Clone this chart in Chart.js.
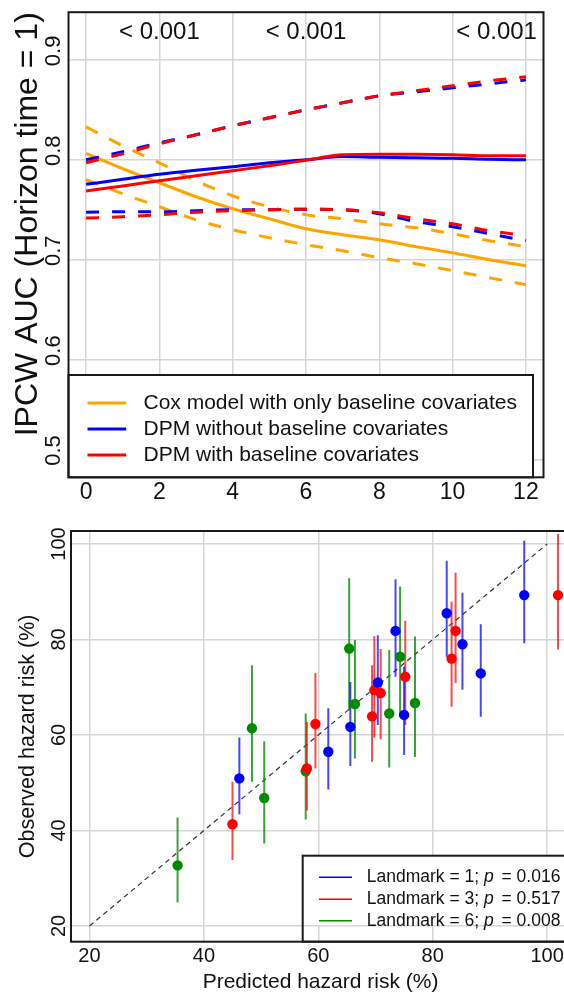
<!DOCTYPE html>
<html><head><meta charset="utf-8">
<script src="https://cdn.jsdelivr.net/npm/chart.js@4.4.1/dist/chart.umd.min.js"></script>
<style>
html,body{margin:0;padding:0;background:#fff;overflow:hidden;width:564px;height:995px;}
#c1{position:absolute;left:0;top:0;}
#c2{position:absolute;left:0;top:510px;}
</style></head><body>
<canvas id="c1" width="564" height="510" style="width:564px;height:510px"></canvas>
<canvas id="c2" width="580" height="485" style="width:580px;height:485px"></canvas>
<script>
// ---------- Top chart data ----------
const timeGrid = [0,1,2,3,4,5,6,7,8,9,10,11,12];
const coxAUC   = [0.8065,0.791,0.777,0.763,0.751,0.741,0.731,0.725,0.720,0.713,0.707,0.700,0.694];
const coxUpper = [0.833,0.814,0.797,0.779,0.764,0.753,0.745,0.741,0.736,0.732,0.726,0.719,0.713];
const coxLower = [0.780,0.766,0.753,0.740,0.730,0.722,0.715,0.709,0.702,0.696,0.689,0.682,0.675];
const dpmNoBaseAUC   = [0.7754,0.7805,0.7855,0.7895,0.793,0.797,0.800,0.8033,0.8025,0.802,0.8016,0.8005,0.800];
const dpmNoBaseUpper = [0.800,0.808,0.817,0.825,0.834,0.842,0.850,0.857,0.864,0.868,0.872,0.876,0.880];
const dpmNoBaseLower = [0.7475,0.748,0.748,0.749,0.750,0.750,0.7505,0.750,0.746,0.738,0.733,0.726,0.719];
const dpmBaseAUC   = [0.7688,0.7738,0.779,0.784,0.789,0.794,0.7995,0.805,0.8055,0.8055,0.805,0.804,0.804];
const dpmBaseUpper = [0.797,0.806,0.816,0.825,0.834,0.842,0.850,0.857,0.864,0.869,0.874,0.879,0.883];
const dpmBaseLower = [0.7416,0.743,0.745,0.7475,0.749,0.750,0.7505,0.750,0.747,0.741,0.736,0.729,0.724];
const topSeriesNames = ['Cox model with only baseline covariates','DPM without baseline covariates','DPM with baseline covariates'];
const topXTicks = [0,2,4,6,8,10,12];
const topYTicks = [0.5,0.6,0.7,0.8,0.9];
const pLabelText = ['< 0.001','< 0.001','< 0.001'];
const pLabelX = [2, 6, 11.2];
const pLabelY = [0.928, 0.928, 0.928];

// ---------- Bottom chart data ----------
const lm1X  = [46.2,61.75,65.6,70.4,73.5,75.0,82.45,85.2,88.4,96.0];
const lm1Y  = [50.9,56.5,61.7,71.0,81.8,64.2,85.5,79.0,72.9,89.3];
const lm1Lo = [43.4,48.6,53.5,62.1,72.2,55.8,76.4,69.5,63.8,79.2];
const lm1Hi = [59.5,65.6,71.1,80.9,92.6,74.3,96.5,89.8,83.2,100.7];
const lm3X  = [45.0,58.0,59.5,69.4,69.8,70.9,75.2,83.3,84.0,101.9];
const lm3Y  = [41.3,53.0,62.3,63.9,69.4,68.8,72.2,76.0,81.8,89.3];
const lm3Lo = [33.8,44.2,53.0,54.4,59.5,59.1,62.1,65.9,70.9,77.9];
const lm3Hi = [50.2,62.7,73.0,74.6,80.7,78.0,83.9,87.9,94.0,102.1];
const lm6X  = [35.4,48.4,50.55,57.8,65.4,66.4,72.4,74.3,76.9];
const lm6Y  = [32.7,61.4,46.8,52.4,78.1,66.5,64.5,76.4,66.7];
const lm6Lo = [24.9,50.2,37.3,42.3,65.2,55.1,53.2,63.8,55.4];
const lm6Hi = [42.7,74.6,58.7,64.5,92.8,79.9,77.8,91.1,80.6];
const landmarks = [1,3,6];
const landmarkP = ['0.016','0.517','0.008'];
const diagX = [20,100];
const diagY = [20,100];
const calTicks = [20,40,60,80,100];

// ---------- styling ----------
const FONT = "'Liberation Sans', Arial, sans-serif";
Chart.defaults.font.family = FONT;
Chart.defaults.color = '#111';
const ORANGE='#FFA500', BLUE='#0000FF', RED='#FF0000', GREEN='#008B00';
const GRID='#D6D6D6';
const pts = (xs, ys) => xs.map((x,i)=>({x:x, y:ys[i]}));

const framePlugin = {
  id:'frame',
  afterDraw(chart){
    const {ctx, chartArea:a} = chart;
    ctx.save(); ctx.strokeStyle='#1a1a1a'; ctx.lineWidth=2;
    ctx.strokeRect(a.left, a.top, a.right-a.left, a.bottom-a.top);
    ctx.restore();
  }
};

// ---------- Top chart ----------
const topColors = [ORANGE, BLUE, RED];
function curve(label, ys, color, dashed, order){
  return {label, data: pts(timeGrid, ys), borderColor: color, borderWidth: 3,
    borderDash: dashed ? [13,13] : [], pointRadius: 0, fill: false,
    cubicInterpolationMode: 'monotone', order, borderCapStyle:'butt'};
}
const topLegendPlugin = {
  id:'topLegend',
  afterDatasetsDraw(chart){
    const {ctx, chartArea:a} = chart;
    const L=a.left, T=375, R=a.left+464.5, B=a.bottom;
    ctx.save();
    ctx.fillStyle='#fff'; ctx.fillRect(L,T,R-L,B-T);
    ctx.strokeStyle='#1a1a1a'; ctx.lineWidth=2; ctx.strokeRect(L,T,R-L,B-T);
    ctx.font = '21px '+FONT; ctx.textBaseline='middle'; ctx.textAlign='left';
    topSeriesNames.forEach((name,i)=>{
      const y = 403 + i*26;
      ctx.strokeStyle = topColors[i]; ctx.lineWidth = 3;
      ctx.beginPath(); ctx.moveTo(L+19, y); ctx.lineTo(L+57.7, y); ctx.stroke();
      ctx.fillStyle='#111'; ctx.fillText(name, L+75, y);
    });
    // p-value annotations
    const xs = chart.scales.x, ys = chart.scales.y;
    ctx.font = '24px '+FONT; ctx.textAlign='center'; ctx.fillStyle='#111';
    pLabelText.forEach((t,i)=>{
      ctx.fillText(t, xs.getPixelForValue(pLabelX[i]), ys.getPixelForValue(pLabelY[i]));
    });
    ctx.restore();
  }
};

new Chart(document.getElementById('c1'), {
  type:'line',
  data:{ datasets:[
    curve(topSeriesNames[0], coxAUC, ORANGE, false, 6),
    curve(topSeriesNames[0]+' upper', coxUpper, ORANGE, true, 7),
    curve(topSeriesNames[0]+' lower', coxLower, ORANGE, true, 8),
    curve(topSeriesNames[1], dpmNoBaseAUC, BLUE, false, 3),
    curve(topSeriesNames[1]+' upper', dpmNoBaseUpper, BLUE, true, 4),
    curve(topSeriesNames[1]+' lower', dpmNoBaseLower, BLUE, true, 5),
    curve(topSeriesNames[2], dpmBaseAUC, RED, false, 0),
    curve(topSeriesNames[2]+' upper', dpmBaseUpper, RED, true, 1),
    curve(topSeriesNames[2]+' lower', dpmBaseLower, RED, true, 2),
  ]},
  options:{
    responsive:false, animation:false, devicePixelRatio:1, maintainAspectRatio:false,
    layout:{padding:{top:11,right:20.5,left:0,bottom:0}},
    plugins:{legend:{display:false}, tooltip:{enabled:false}},
    scales:{
      x:{type:'linear', min:-0.48, max:12.48,
        afterBuildTicks: s => { s.ticks = topXTicks.map(v=>({value:v})); },
        afterFit: s => { s.height = 32.7; },
        grid:{color:GRID, lineWidth:1.5, drawTicks:false},
        border:{display:false},
        ticks:{font:{size:23}, color:'#111', padding:2, autoSkip:false, maxRotation:0,
          callback: v => String(v)}
      },
      y:{type:'linear', min:0.4822, max:0.9477,
        afterBuildTicks: s => { s.ticks = topYTicks.map(v=>({value:v})); },
        afterFit: s => { s.width = 68.5; },
        grid:{color:GRID, lineWidth:1.5, drawTicks:false},
        border:{display:false},
        title:{display:true, text:'IPCW AUC (Horizon time = 1)', align:'end',
          font:{size:32}, color:'#111', padding:{top:9,bottom:0}},
        ticks:{font:{size:22}, color:'#111', minRotation:90, maxRotation:90,
          crossAlign:'center', padding:-1, labelOffset:-9, autoSkip:false,
          callback: v => Number(v).toFixed(1)}
      }
    }
  },
  plugins:[topLegendPlugin, framePlugin]
});

// ---------- Bottom chart ----------
function errBars(xs, lo, hi){
  const d = [];
  xs.forEach((x,i)=>{ d.push({x:x,y:lo[i]}); d.push({x:x,y:hi[i]}); d.push({x:x,y:null}); });
  return d;
}
const lmColors = [BLUE, RED, GREEN];
const lmBarColors = ['rgba(0,0,255,0.72)','rgba(255,0,0,0.72)','rgba(0,139,0,0.78)'];
const bottomLegendPlugin = {
  id:'bottomLegend',
  afterDatasetsDraw(chart){
    const {ctx, chartArea:a} = chart;
    const L=302.7, T=345.7, R=a.right+20, B=a.bottom;
    const fillB = chart.scales.y.getPixelForValue(20) - 1;
    ctx.save();
    ctx.fillStyle='#fff'; ctx.fillRect(L,T,R-L,fillB-T);
    ctx.strokeStyle='#1a1a1a'; ctx.lineWidth=2; ctx.strokeRect(L,T,R-L,B-T);
    ctx.textBaseline='middle'; ctx.textAlign='left'; ctx.fillStyle='#111';
    landmarks.forEach((lm,i)=>{
      const y = [367.3, 389.3, 410.7][i];
      ctx.strokeStyle = lmColors[i]; ctx.lineWidth = 1.5;
      ctx.beginPath(); ctx.moveTo(319, y); ctx.lineTo(352, y); ctx.stroke();
      let x = 366.7;
      ctx.font = '17.5px '+FONT;
      const s1 = 'Landmark = '+lm+'; ';
      ctx.fillText(s1, x, y); x += ctx.measureText(s1).width;
      ctx.font = 'italic 17.5px '+FONT;
      ctx.fillText('p', x, y); x += ctx.measureText('p').width + 3;
      ctx.font = '17.5px '+FONT;
      ctx.fillText(' = '+landmarkP[i], x, y);
    });
    ctx.restore();
  }
};

new Chart(document.getElementById('c2'), {
  type:'scatter',
  data:{ datasets:[
    {type:'line', label:'diag', data:pts(diagX, diagY), borderColor:'#333', borderWidth:1.2,
      borderDash:[5,4], pointRadius:0, order:10},
    {type:'line', label:'Landmark 1 CI', data:errBars(lm1X,lm1Lo,lm1Hi), borderColor:lmBarColors[0], borderWidth:2, pointRadius:0, spanGaps:false, order:5},
    {type:'line', label:'Landmark 3 CI', data:errBars(lm3X,lm3Lo,lm3Hi), borderColor:lmBarColors[1], borderWidth:2, pointRadius:0, spanGaps:false, order:5},
    {type:'line', label:'Landmark 6 CI', data:errBars(lm6X,lm6Lo,lm6Hi), borderColor:lmBarColors[2], borderWidth:2, pointRadius:0, spanGaps:false, order:5},
    {label:'Landmark = 1', data:pts(lm1X,lm1Y), backgroundColor:BLUE, borderColor:BLUE, pointRadius:5.2, borderWidth:0, order:1},
    {label:'Landmark = 3', data:pts(lm3X,lm3Y), backgroundColor:RED, borderColor:RED, pointRadius:5.2, borderWidth:0, order:1},
    {label:'Landmark = 6', data:pts(lm6X,lm6Y), backgroundColor:GREEN, borderColor:GREEN, pointRadius:5.2, borderWidth:0, order:1},
  ]},
  options:{
    responsive:false, animation:false, devicePixelRatio:1, maintainAspectRatio:false,
    layout:{padding:{top:21,right:10,left:0,bottom:0}},
    plugins:{legend:{display:false}, tooltip:{enabled:false}},
    scales:{
      x:{type:'linear', min:16.77, max:104.0,
        afterBuildTicks: s => { s.ticks = calTicks.map(v=>({value:v})); },
        afterFit: s => { s.height = 53.3; },
        grid:{color:GRID, lineWidth:1.5, drawTicks:false},
        border:{display:false},
        title:{display:true, text:'Predicted hazard risk (%)', font:{size:21}, color:'#111', padding:{top:0,bottom:0}},
        ticks:{font:{size:20}, color:'#111', padding:3, autoSkip:false, maxRotation:0}
      },
      y:{type:'linear', min:16.71, max:102.72,
        afterBuildTicks: s => { s.ticks = calTicks.map(v=>({value:v})); },
        afterFit: s => { s.width = 71; },
        grid:{color:GRID, lineWidth:1.5, drawTicks:false},
        border:{display:false},
        title:{display:true, text:'Observed hazard risk (%)', font:{size:21.5}, color:'#111', padding:{top:15,bottom:0}},
        ticks:{font:{size:20}, color:'#111', minRotation:90, maxRotation:90,
          crossAlign:'center', padding:-5, autoSkip:false}
      }
    }
  },
  plugins:[bottomLegendPlugin, framePlugin]
});
</script></body></html>
